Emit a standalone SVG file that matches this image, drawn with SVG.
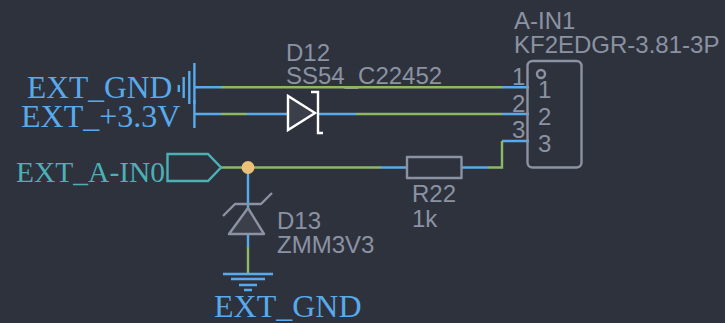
<svg xmlns="http://www.w3.org/2000/svg" width="725" height="323" viewBox="0 0 725 323">
<style>
.b{stroke:#58aaec;stroke-width:2.4;fill:none}
.g{stroke:#8db866;stroke-width:2.4;fill:none}
.p{stroke:#8b92a3;stroke-width:2.4;fill:none;stroke-linejoin:round}
.t{font-family:"Liberation Sans",Arial,sans-serif;font-size:24px;fill:#8b92a3}
.n{font-family:"Liberation Serif","Times New Roman",serif;font-size:32px;fill:#58aaec}
</style>
<rect width="725" height="323" fill="#2e323d"/>
<g id="D12-value"><text class="t" x="286" y="84">SS54_C22452</text></g>
<g id="connectors">
<path class="b" d="M194 87.300H221M502 87.300H529M194 114H221M247 114H287M317 114H356M502 114H529M502 141H529M462 167.500H488M381 167.500H408M248 167V226M248 234V247"/>
<path class="g" d="M221 87.300H502M221 114H247M356 114H502M221 167.500H381M488 167.500H502V141M248 247V275"/>
</g>
<g id="EXT_GND_top">
<path class="b" d="M194.400 63V104M189.300 71V104M183.700 77V98M178.800 85V92"/>
<text class="n" x="27" y="98" style="font-size:31.500px">EXT_GND</text>
</g>
<g id="EXT_3V3">
<path class="b" d="M194.400 100V128"/>
<text class="n" x="21" y="127">EXT_+3.3V</text>
</g>
<g id="EXT_A-IN0">
<path d="M167.500 154H208L221 167.500L208 181H167.500Z" fill="none" stroke="#4cb0b5" stroke-width="2.400"/>
<text class="n" x="16" y="181.500" style="fill:#4cb0b5;font-size:29.500px">EXT_A-IN0</text>
</g>
<g id="junction"><circle cx="248" cy="167.500" r="6.500" fill="#ecc078"/></g>
<g id="D12">
<path d="M288 96V130L315 113Z" fill="#3b3f4a" stroke="#fff" stroke-width="2.400"/>
<path d="M311 92H318V133H323" fill="none" stroke="#fff" stroke-width="2.400"/>
<text class="t" x="286" y="60.500">D12</text>
</g>
<g id="D13">
<path class="p" d="M248 208L264 234H229Z" style="fill:#3b3f4a"/>
<path class="p" d="M223 216L235 204H261L272 193"/>
<text class="t" x="277" y="229">D13</text>
<text class="t" x="277" y="252.500">ZMM3V3</text>
</g>
<g id="GND2">
<path class="b" d="M223 274H273M231 279H265M239 285H257M244 290H252"/>
<text class="n" x="214" y="316.500">EXT_GND</text>
</g>
<g id="R22">
<rect class="p" x="407" y="157" width="54.500" height="21"/>
<text class="t" x="412" y="202">R22</text>
<text class="t" x="412" y="226.500">1k</text>
</g>
<g id="A-IN1">
<rect class="p" x="527.500" y="61" width="54" height="106.500" rx="5"/>
<circle cx="541" cy="74" r="4" fill="none" stroke="#8b92a3" stroke-width="2.400"/>
<text class="t" x="514" y="28.500">A-IN1</text>
<text class="t" x="514" y="52.500">KF2EDGR-3.81-3P</text>
<text class="t" x="512" y="85">1</text><text class="t" x="512" y="111.500">2</text><text class="t" x="512" y="138">3</text>
<text class="t" x="538" y="98">1</text><text class="t" x="538" y="125">2</text><text class="t" x="538" y="152">3</text>
</g>
</svg>
